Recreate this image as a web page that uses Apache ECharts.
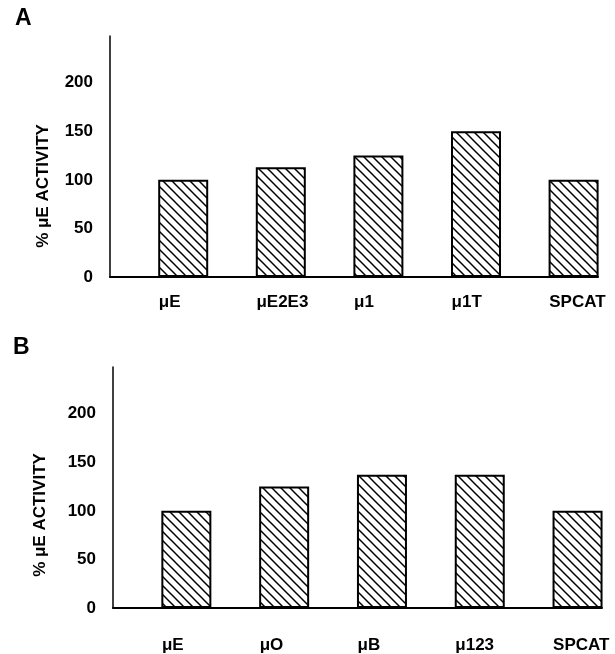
<!DOCTYPE html>
<html>
<head>
<meta charset="utf-8">
<script src="https://cdn.jsdelivr.net/npm/echarts@6/dist/echarts.min.js"></script>
<style>
  html, body { margin: 0; padding: 0; background: #fff; }
  #main { width: 615px; height: 654px; }
</style>
</head>
<body>
<div id="main"></div>
<script>
// data
var catsA = ['\u03bcE', '\u03bcE2E3', '\u03bc1', '\u03bc1T', 'SPCAT'];
var valsA = [100, 113, 125, 150, 100];
var catsB = ['\u03bcE', '\u03bcO', '\u03bcB', '\u03bc123', 'SPCAT'];
var valsB = [100, 125, 137, 137, 100];
var yTicks = [0, 50, 100, 150, 200];

var FONT = '"Liberation Sans", Arial, Helvetica, sans-serif';

// hatch tile for the bars (lines like \\\)
function makeHatch() {
  var n = 9;
  var c = document.createElement('canvas');
  c.width = n; c.height = n;
  var ctx = c.getContext('2d');
  ctx.fillStyle = '#fff';
  ctx.fillRect(0, 0, n, n);
  ctx.strokeStyle = '#000';
  ctx.lineWidth = 1.5;
  for (var k = -1; k <= 1; k++) {
    ctx.beginPath();
    ctx.moveTo(-1, -1 + k * n);
    ctx.lineTo(n + 1, n + 1 + k * n);
    ctx.stroke();
  }
  return c;
}
var hatch = { image: makeHatch(), repeat: 'repeat' };

function xAxisFor(gi, cats, margin) {
  return {
    type: 'value', gridIndex: gi, min: -0.75, max: 4.25,
    splitLine: { show: false },
    axisTick: { show: false },
    axisLine: { onZero: false, lineStyle: { color: '#000', width: 2 } },
    axisLabel: {
      customValues: cats.map(function (c, i) { return i - 0.25; }),
      formatter: function (v) { return cats[Math.round(v + 0.25)]; },
      align: 'left', margin: margin,
      fontSize: 17, fontWeight: 'bold', color: '#000', fontFamily: FONT
    }
  };
}

function yAxisFor(gi) {
  return {
    type: 'value', gridIndex: gi, min: 0, max: 248, interval: 50,
    splitLine: { show: false },
    axisTick: { show: false },
    axisLine: { show: true, onZero: false, lineStyle: { color: '#000', width: 1.5 } },
    axisLabel: {
      customValues: yTicks, margin: 17,
      fontSize: 17, fontWeight: 'bold', color: '#000', fontFamily: FONT
    }
  };
}

function barSeries(gi, vals) {
  return {
    type: 'bar', xAxisIndex: gi, yAxisIndex: gi,
    barWidth: 50,
    data: vals.map(function (v, i) { return [i, v]; }),
    itemStyle: { color: hatch, borderColor: '#000', borderWidth: 2 },
    silent: true
  };
}

var myChart = echarts.init(document.getElementById('main'), null, { renderer: 'canvas' });

var option = {
  backgroundColor: '#fff',
  animation: false,
  grid: [
    { left: 110, right: 17, top: 36, height: 241 },
    { left: 113, right: 13, top: 367, height: 241 }
  ],
  xAxis: [xAxisFor(0, catsA, 17), xAxisFor(1, catsB, 29)],
  yAxis: [yAxisFor(0), yAxisFor(1)],
  series: [barSeries(0, valsA), barSeries(1, valsB)],
  graphic: [
    { type: 'text', left: 15, top: 7, style: { text: 'A', font: 'bold 23px ' + FONT, fill: '#000' } },
    { type: 'text', left: 13, top: 336, style: { text: 'B', font: 'bold 23px ' + FONT, fill: '#000' } },
    { type: 'text', x: 43, y: 186, rotation: Math.PI / 2,
      style: { text: '% \u03bcE ACTIVITY', font: 'bold 17px ' + FONT, fill: '#000', align: 'center', verticalAlign: 'middle' } },
    { type: 'text', x: 40, y: 515, rotation: Math.PI / 2,
      style: { text: '% \u03bcE ACTIVITY', font: 'bold 17px ' + FONT, fill: '#000', align: 'center', verticalAlign: 'middle' } }
  ]
};

myChart.setOption(option);
</script>
</body>
</html>
